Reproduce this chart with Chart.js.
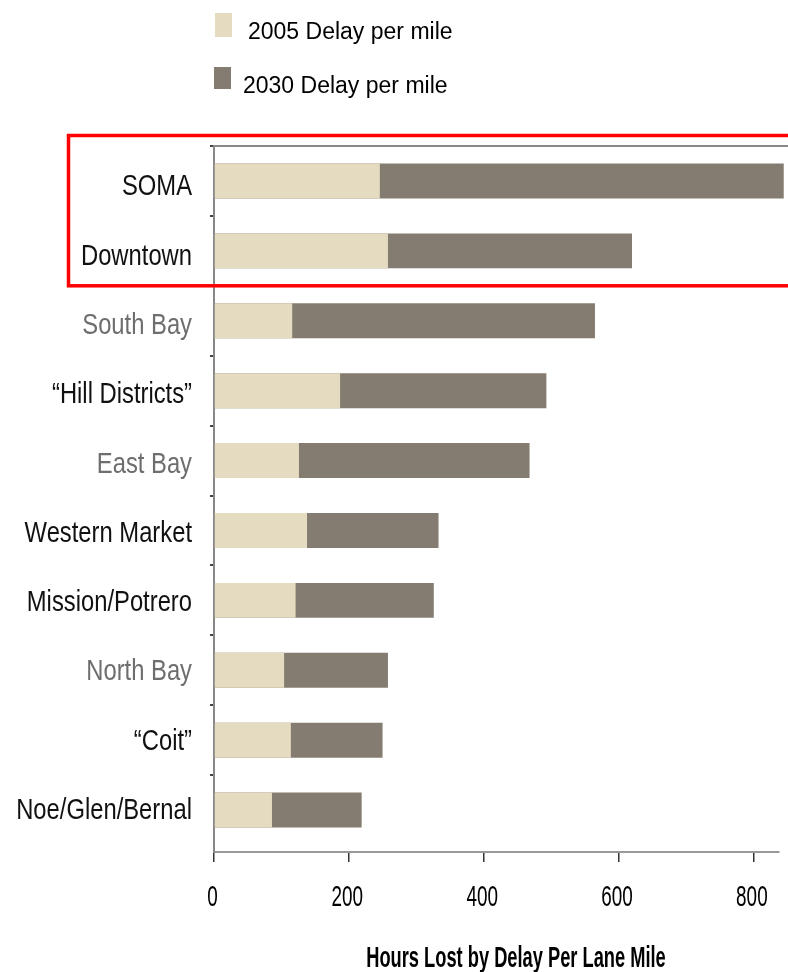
<!DOCTYPE html>
<html>
<head>
<meta charset="utf-8">
<title>Hours Lost by Delay Per Lane Mile</title>
<script src="https://cdn.jsdelivr.net/npm/chart.js@4.4.0/dist/chart.umd.min.js"></script>
<style>
  html, body { margin: 0; padding: 0; background: #fff; }
  #wrap { position: relative; width: 788px; height: 972px; overflow: hidden; }
  #delayChart { position: absolute; left: 0; top: 0; }
  .swatch { position: absolute; width: 17px; }
  .legend-text {
    position: absolute;
    font-family: "Liberation Sans", Arial, sans-serif;
    font-size: 23px;
    line-height: 1;
    color: #000;
    white-space: nowrap;
    transform: translateY(-50%);
  }
</style>
</head>
<body>
<div id="wrap">
  <canvas id="delayChart" width="788" height="972"></canvas>
  <div id="legend"></div>
</div>
<script>
// Delay per lane mile by district, 2005 vs 2030
const regions = ['SOMA', 'Downtown', 'South Bay', '“Hill Districts”', 'East Bay',
  'Western Market', 'Mission/Potrero', 'North Bay', '“Coit”', 'Noe/Glen/Bernal'];
const delay2005 = [246, 258, 116, 187, 126, 138, 121, 104, 114, 86];
const delay2030 = [845, 620, 565, 493, 468, 333, 326, 258, 250, 219];
const xTicks = [0, 200, 400, 600, 800];
const mutedRegions = ['South Bay', 'East Bay', 'North Bay'];

const SANS = '"Liberation Sans", Arial, sans-serif';

// draw text squeezed horizontally (no narrow face is installed)
function narrowText(ctx, text, x, y, squeeze, align) {
  ctx.save();
  ctx.translate(x, y);
  ctx.scale(squeeze, 1);
  ctx.textAlign = align;
  ctx.textBaseline = 'alphabetic';
  ctx.fillText(text, 0, 0);
  ctx.restore();
}

// axis labels, top frame line, the highlight box and the axis caption
const extras = {
  id: 'extras',
  afterDraw(chart) {
    const { ctx, chartArea } = chart;
    const x = chart.scales.x;
    const y = chart.scales.y;
    ctx.save();

    ctx.strokeStyle = '#888';
    ctx.lineWidth = 2;
    ctx.beginPath();
    ctx.moveTo(chartArea.left, chartArea.top);
    ctx.lineTo(chart.width, chartArea.top);
    ctx.stroke();

    // district names, set a touch tighter than the bars
    ctx.font = '29px ' + SANS;
    const y0 = y.getPixelForValue(0);
    regions.forEach((name, i) => {
      const ly = y0 + (y.getPixelForValue(i) - y0) * 0.991 + 14.5;
      ctx.fillStyle = mutedRegions.includes(name) ? '#6e6e6e' : '#111';
      narrowText(ctx, name, y.right - 22, ly, 0.82, 'right');
    });

    // value ticks
    ctx.fillStyle = '#000';
    ctx.font = '30px ' + SANS;
    x.ticks.forEach(t => {
      narrowText(ctx, String(t.value), x.getPixelForValue(t.value) - 1.5, 906, 0.63, 'center');
    });

    // box round the two core districts
    const band = y.getPixelForValue(1) - y.getPixelForValue(0);
    const boxTop = y.getPixelForValue(0) - band / 2 - 10.5;
    const boxBottom = y.getPixelForValue(1) + band / 2;
    ctx.strokeStyle = '#ff0000';
    ctx.lineWidth = 3.5;
    ctx.strokeRect(68.5, boxTop, chart.width + 20, boxBottom - boxTop);

    // x axis caption
    ctx.fillStyle = '#000';
    ctx.font = 'bold 29px ' + SANS;
    narrowText(ctx, 'Hours Lost by Delay Per Lane Mile', 516, 966.5, 0.63, 'center');
    ctx.restore();
  }
};

const ctx = document.getElementById('delayChart').getContext('2d');
const delayChart = new Chart(ctx, {
  type: 'bar',
  data: {
    labels: regions,
    datasets: [
      {
        label: '2005 Delay per mile',
        data: delay2005,
        backgroundColor: '#e5dbc1',
        grouped: false,
        clip: false
      },
      {
        label: '2030 Delay per mile',
        data: delay2030,
        backgroundColor: '#847c70',
        grouped: false,
        clip: false
      }
    ]
  },
  options: {
    indexAxis: 'y',
    responsive: false,
    animation: false,
    categoryPercentage: 1,
    barPercentage: 0.5,
    layout: { padding: { top: 146, right: 9, left: 0, bottom: 0 } },
    plugins: {
      legend: { display: false },
      tooltip: { enabled: false }
    },
    scales: {
      x: {
        min: 0,
        max: 838,
        afterBuildTicks: scale => { scale.ticks = xTicks.map(v => ({ value: v })); },
        afterFit: scale => { scale.height = 120; },
        border: { display: true, color: '#999', width: 2 },
        grid: {
          drawOnChartArea: false,
          drawTicks: true,
          tickLength: 10,
          color: '#333',
          lineWidth: 1.5
        },
        ticks: { display: false }
      },
      y: {
        type: 'category',
        offset: true,
        // leave a small gap between the last district and the x axis
        afterBuildTicks: scale => { scale._valueRange += 0.1; },
        afterFit: scale => { scale.width = 214; },
        border: { display: true, color: '#888', width: 2 },
        grid: {
          offset: true,
          drawOnChartArea: false,
          tickLength: 4,
          color: c => c.type === 'tick' ? '#444' : 'rgba(0,0,0,0)',
          lineWidth: 2
        },
        ticks: { display: false }
      }
    }
  },
  plugins: [extras]
});

// stacked legend above the plot
const legendRows = [
  { x: 215, y: 13, h: 24, tx: 248, ty: 31 },
  { x: 214, y: 67, h: 22, tx: 243, ty: 85 }
];
const legendEl = document.getElementById('legend');
delayChart.data.datasets.forEach((ds, i) => {
  const row = legendRows[i];
  const sw = document.createElement('div');
  sw.className = 'swatch';
  sw.style.left = row.x + 'px';
  sw.style.top = row.y + 'px';
  sw.style.height = row.h + 'px';
  sw.style.background = ds.backgroundColor;
  const tx = document.createElement('div');
  tx.className = 'legend-text';
  tx.style.left = row.tx + 'px';
  tx.style.top = row.ty + 'px';
  tx.textContent = ds.label;
  legendEl.appendChild(sw);
  legendEl.appendChild(tx);
});
</script>
</body>
</html>
